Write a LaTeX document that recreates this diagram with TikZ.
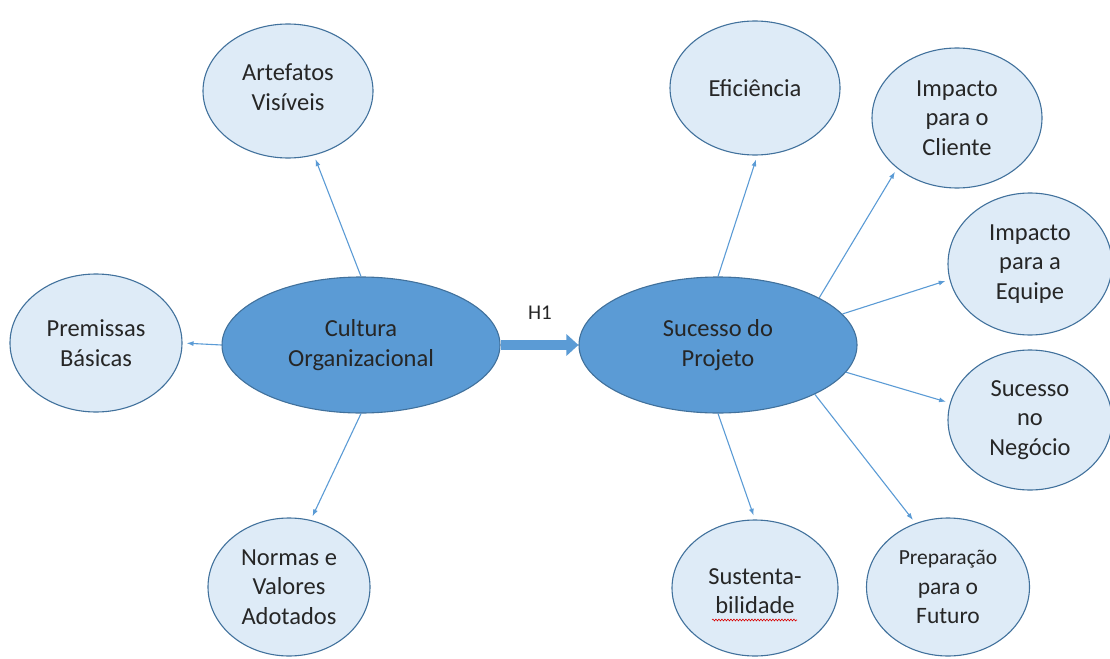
\documentclass[tikz,border=0pt]{standalone}
\usepackage{fontspec}
\setmainfont{Carlito}
\usetikzlibrary{shapes.geometric,arrows.meta,decorations.pathmorphing}
\definecolor{mainblue}{HTML}{5B9BD5}
\definecolor{edgeblue}{HTML}{41719C}
\definecolor{paleblue}{HTML}{DEEBF7}
\begin{document}
\begin{tikzpicture}[x=1pt,y=-1pt,
  core/.style={ellipse,draw=edgeblue,line width=1.1pt,fill=mainblue,inner sep=0pt,
    minimum width=278pt,minimum height=136pt,align=center,
    font=\fontsize{24.5}{29.5}\selectfont,text=black!85},
  leaf/.style={ellipse,draw=edgeblue,line width=1.1pt,fill=paleblue,inner sep=0pt,
    align=center,font=\fontsize{24.5}{29.5}\selectfont,text=black!85},
  link/.style={draw=mainblue,line width=1.1pt,-{Latex[length=7pt,width=5pt]},shorten >=4pt}
]
\useasboundingbox (0,0) rectangle (1110,658);

% central constructs
\node[core] (cult) at (361,345) {Cultura\\Organizacional};
\node[core] (suc)  at (718,345) {Sucesso do\\Projeto};

% dimensions of organisational culture
\node[leaf,minimum width=170pt,minimum height=134pt] (art) at (288,91) {Artefatos\\Visíveis\\[-22pt]\mbox{}};
\node[leaf,minimum width=172pt,minimum height=138pt] (pre) at (96,343) {Premissas\\Básicas};
\node[leaf,minimum width=162pt,minimum height=138pt] (nor) at (289,587) {Normas e\\Valores\\Adotados};

% dimensions of project success
\node[leaf,minimum width=170pt,minimum height=134pt] (efi) at (755,88) {Eficiência};
\node[leaf,minimum width=170pt,minimum height=140pt] (cli) at (957,118) {Impacto\\para o\\Cliente};
\node[leaf,minimum width=164pt,minimum height=142pt] (equ) at (1030,264) {Impacto\\para a\\Equipe};
\node[leaf,minimum width=164pt,minimum height=140pt] (neg) at (1030,420) {Sucesso\\no\\Negócio};
\node[leaf,minimum width=163pt,minimum height=138pt] (fut) at (948,587) {{\fontsize{21.5}{29}\selectfont Preparação}\\{\fontsize{23.5}{29}\selectfont para o}\\{\fontsize{23.5}{29}\selectfont Futuro}};
\node[leaf,minimum width=166pt,minimum height=136pt] (sus) at (755,588)
  {\raisebox{-5pt}[\height][\depth]{\begin{tabular}{@{}c@{}}Sustenta-\\bilidade\end{tabular}}};

% spell-check underline under the hyphenated word
\coordinate (wl) at (712,620);
\coordinate (wr) at (797,620);
\draw[red!85!black,line width=0.6pt,decorate,decoration={snake,amplitude=0.9pt,segment length=3pt}] (wl) -- (wr);

% hypothesis H1
\draw[mainblue,line width=10pt,-{Triangle[length=12pt,width=21pt]}] (cult.east) -- (suc.west);
\node[font=\fontsize{21}{22}\selectfont,text=black!85] (h1) at (540,313) {H1};

% culture links
\draw[link] (cult.north) -- (art.292);
\draw[link] (cult.west) -- (pre.east);
\draw[link] (cult.south) -- (nor.72);

% success links
\draw[link] (suc.north) -- (efi.272);
\draw[link] (suc.25.6) -- (cli.220);
\draw[link] (suc.14.1) -- (equ.191);
\draw[link] (suc.-12) -- (neg.168);
\draw[link] (suc.-27.5) -- (fut.117);
\draw[link] (suc.south) -- (sus.north);
\end{tikzpicture}
\end{document}
